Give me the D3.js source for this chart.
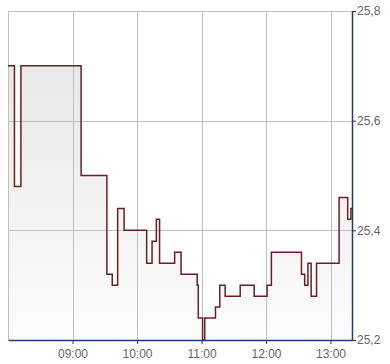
<!DOCTYPE html>
<html>
<head>
<meta charset="utf-8">
<script src="https://cdn.jsdelivr.net/npm/d3@7"></script>
<style>
    body { margin: 0; background: #fff; }
    .tick text { font-family: "Liberation Sans", Arial, sans-serif; font-size: 12px; fill: #666; }
</style>
</head>
<body>
<div id="chart"></div>
<script>
// price steps (time of change, price)
var times = ["08:00", "08:06", "08:12", "09:08", "09:32", "09:37", "09:42", "09:48",
    "10:09", "10:14", "10:18", "10:21", "10:35", "10:41", "10:56", "10:57",
    "11:01", "11:03", "11:13", "11:17", "11:22", "11:36", "11:49", "12:01",
    "12:05", "12:33", "12:36", "12:39", "12:42", "12:47", "13:08", "13:16", "13:19", "13:20"];
var prices = [25.70, 25.48, 25.70, 25.50, 25.32, 25.30, 25.44, 25.40,
    25.34, 25.38, 25.42, 25.34, 25.36, 25.32, 25.30, 25.24,
    25.20, 25.24, 25.26, 25.30, 25.28, 25.30, 25.28, 25.30,
    25.36, 25.32, 25.30, 25.34, 25.28, 25.34, 25.46, 25.42, 25.44, 25.44];
var xTicks = ["09:00", "10:00", "11:00", "12:00", "13:00"];
var yTicks = [25.2, 25.4, 25.6, 25.8];

var parse = d3.timeParse("%H:%M");
var data = times.map(function (t, i) { return { date: parse(t), price: prices[i] }; });

var width = 390, height = 364;
var margin = { top: 11, right: 38, bottom: 24, left: 8 };
var w = width - margin.left - margin.right;
var h = height - margin.top - margin.bottom;

var svg = d3.select("#chart").append("svg")
    .attr("width", width)
    .attr("height", height)
    .append("g")
    .attr("transform", "translate(" + margin.left + "," + margin.top + ")");

var x = d3.scaleTime().domain([parse("08:00"), parse("13:20")]).range([0, w]);
var y = d3.scaleLinear().domain([25.2, 25.8]).range([h, 0]);

// background gradient for area
var grad = svg.append("defs").append("linearGradient")
    .attr("id", "fillGrad")
    .attr("gradientUnits", "userSpaceOnUse")
    .attr("y1", y(25.8)).attr("y2", y(25.2)).attr("x1", 0).attr("x2", 0);
grad.append("stop").attr("offset", "0%").attr("stop-color", "#e4e4e4");
grad.append("stop").attr("offset", "100%").attr("stop-color", "#fcfcfc");

var area = d3.area()
    .x(function (d) { return x(d.date); })
    .y0(h)
    .y1(function (d) { return y(d.price); })
    .curve(d3.curveStepAfter);

svg.append("path")
    .datum(data)
    .attr("fill", "url(#fillGrad)")
    .attr("d", area);

// grid
svg.selectAll(".vgrid")
    .data(xTicks)
    .enter().append("line")
    .attr("x1", function (d) { return Math.round(x(parse(d))) + 0.5; })
    .attr("x2", function (d) { return Math.round(x(parse(d))) + 0.5; })
    .attr("y1", 0).attr("y2", h)
    .attr("stroke", "#c0c0c0");

svg.selectAll(".hgrid")
    .data(yTicks.slice(1))
    .enter().append("line")
    .attr("x1", 0).attr("x2", w)
    .attr("y1", function (d) { return Math.round(y(d)) + 0.5; })
    .attr("y2", function (d) { return Math.round(y(d)) + 0.5; })
    .attr("stroke", "#c0c0c0");

// left frame
svg.append("line")
    .attr("x1", 0.5).attr("x2", 0.5).attr("y1", 0).attr("y2", h)
    .attr("stroke", "#c0c0c0");

var line = d3.line()
    .x(function (d) { return x(d.date); })
    .y(function (d) { return y(d.price); })
    .curve(d3.curveStepAfter);

svg.append("path")
    .datum(data)
    .attr("fill", "none")
    .attr("stroke", "#6b1f25")
    .attr("stroke-width", 1.5)
    .attr("d", line);

// axes
var xAxis = d3.axisBottom(x)
    .tickValues(xTicks.map(parse))
    .tickFormat(d3.timeFormat("%H:%M"))
    .tickSize(4)
    .tickSizeOuter(0);

var gx = svg.append("g")
    .attr("transform", "translate(0," + h + ")")
    .call(xAxis);
gx.select(".domain").attr("stroke", "#1c3f6e").attr("stroke-width", 1.5);
gx.selectAll(".tick line").attr("stroke", "#1c3f6e");
gx.selectAll(".tick text").attr("dy", "0.95em");

var yAxis = d3.axisRight(y)
    .tickValues(yTicks)
    .tickFormat(function (d) { return d3.format(".1f")(d).replace(".", ","); })
    .tickSize(4)
    .tickSizeOuter(0);

var gy = svg.append("g")
    .attr("transform", "translate(" + w + ",0)")
    .call(yAxis);
gy.select(".domain").attr("stroke", "#1c3f6e").attr("stroke-width", 1.5);
gy.selectAll(".tick line").attr("stroke", "#333");
gy.selectAll(".tick text").attr("x", 5);
</script>
</body>
</html>
